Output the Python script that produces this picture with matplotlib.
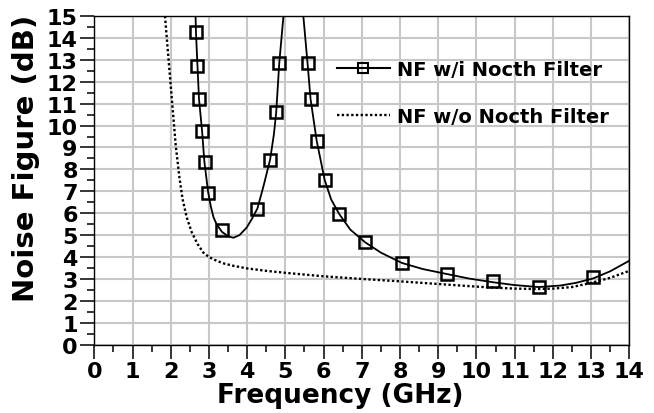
import numpy as np
import matplotlib
matplotlib.use("Agg")
import matplotlib.pyplot as plt
from matplotlib.lines import Line2D
from matplotlib.ticker import MultipleLocator

# ---------- Data ----------
# NF with notch filter: two branches on each side of the notch
with_left_x = [2.65, 2.66, 2.70, 2.74, 2.82, 2.88, 2.98, 3.05, 3.12, 3.20, 3.34, 3.50,
               3.64, 3.80, 3.99, 4.12, 4.27, 4.43, 4.60, 4.70, 4.76, 4.84, 4.95]
with_left_y = [15.0, 14.27, 12.72, 11.2, 9.76, 8.35, 6.95, 6.3, 5.81, 5.5, 5.15, 4.95,
               4.88, 5.0, 5.35, 5.73, 6.22, 7.25, 8.44, 9.6, 10.6, 12.85, 15.0]
with_right_x = [5.47, 5.58, 5.66, 5.82, 6.03, 6.20, 6.41, 6.70, 7.09, 7.50, 8.05, 8.60,
                9.24, 9.80, 10.43, 11.0, 11.63, 12.2, 12.6, 13.05, 13.5, 14.0]
with_right_y = [15.0, 12.85, 11.2, 9.3, 7.51, 6.62, 5.96, 5.25, 4.67, 4.2, 3.73, 3.45,
                3.22, 3.02, 2.85, 2.72, 2.63, 2.7, 2.82, 3.02, 3.35, 3.83]

# square markers on the notch-filter curve
marker_x = [2.66, 2.70, 2.74, 2.82, 2.90, 2.98, 3.34, 4.27, 4.60, 4.76, 4.84,
            5.58, 5.66, 5.82, 6.03, 6.41, 7.09, 8.05, 9.24, 10.43, 11.63, 13.05]
marker_y = [14.27, 12.72, 11.2, 9.76, 8.35, 6.93, 5.23, 6.2, 8.44, 10.6, 12.85,
            12.85, 11.2, 9.3, 7.51, 5.96, 4.67, 3.73, 3.24, 2.89, 2.63, 3.10]

# NF without notch filter
without_x = [1.85, 1.92, 2.03, 2.13, 2.23, 2.31, 2.42, 2.55, 2.70, 2.85, 3.0, 3.2, 3.4,
             3.64, 4.0, 4.5, 5.0, 5.5, 6.0, 7.0, 8.0, 9.0, 10.0, 10.5, 11.0, 11.6,
             12.0, 12.5, 13.0, 13.5, 14.0]
without_y = [15.0, 13.5, 11.2, 9.1, 7.6, 6.64, 5.8, 5.13, 4.6, 4.21, 4.0, 3.83, 3.7,
             3.6, 3.48, 3.37, 3.28, 3.2, 3.12, 3.0, 2.89, 2.77, 2.65, 2.6, 2.56, 2.54,
             2.56, 2.63, 2.82, 3.05, 3.37]

labels = ["NF w/i Nocth Filter", "NF w/o Nocth Filter"]

# ---------- Plot ----------
plt.rcParams['font.family'] = ['DejaVu Sans']
plt.rcParams['font.weight'] = 'bold'

fig = plt.figure(figsize=(6.54, 4.14), dpi=100)
ax = fig.add_axes([0.1442, 0.165, 0.818, 0.794])

curve_x = with_left_x + [np.nan] + with_right_x
curve_y = with_left_y + [np.nan] + with_right_y
ax.plot(curve_x, curve_y, color='black', lw=1.3, zorder=3)
ax.plot(marker_x, marker_y, ls='none', marker='s', ms=8.5, mfc='none',
        mec='black', mew=1.8, zorder=4)
ax.plot(without_x, without_y, color='black', lw=1.7, ls=(0, (1, 1)), zorder=3)

ax.set_xlim(0, 14)
ax.set_ylim(0, 15)
ax.xaxis.set_major_locator(MultipleLocator(1))
ax.xaxis.set_minor_locator(MultipleLocator(0.5))
ax.yaxis.set_major_locator(MultipleLocator(1))
ax.yaxis.set_minor_locator(MultipleLocator(0.5))
ax.grid(True, which='major', color='#c8c8c8', lw=1.5, zorder=0)
ax.set_axisbelow(True)

ax.tick_params(which='major', direction='out', length=10, width=1.1, labelsize=16, pad=2)
ax.tick_params(which='minor', direction='out', length=5, width=1.1)
for lab in ax.get_xticklabels() + ax.get_yticklabels():
    lab.set_fontweight('bold')
for sp in ax.spines.values():
    sp.set_color('black')
    sp.set_linewidth(1.0)

ax.set_xlabel("Frequency (GHz)", fontsize=19, fontweight='bold')
ax.set_ylabel("Noise Figure (dB)", fontsize=21, fontweight='bold')
ax.xaxis.set_label_coords(0.459, -0.113)
ax.yaxis.set_label_coords(-0.102, 0.57)

handles = [
    Line2D([], [], color='black', lw=1.5, marker='s', ms=7, mfc='none', mew=1.5),
    Line2D([], [], color='black', lw=1.7, ls=(0, (1, 1))),
]
ax.legend(handles, labels, loc='upper left', bbox_to_anchor=(0.4537, 0.867),
          frameon=False, handlelength=2.7, handletextpad=0.4,
          labelspacing=1.46, borderpad=0, borderaxespad=0,
          prop={'weight': 'bold', 'size': 14})

fig.savefig("out.png", dpi=100)
